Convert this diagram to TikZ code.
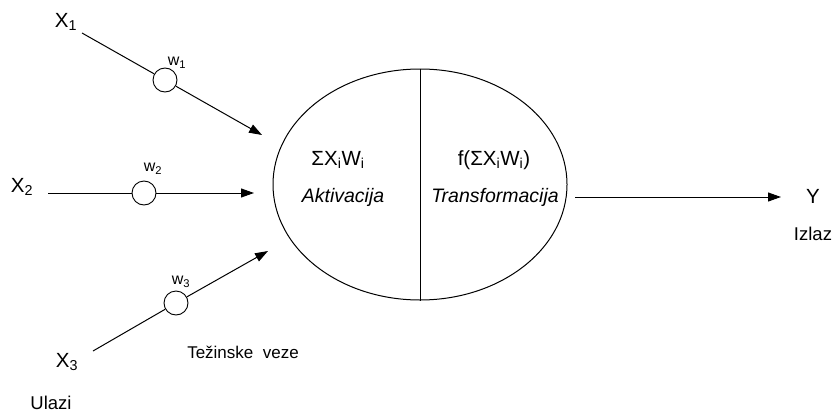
\documentclass[tikz,border=0pt]{standalone}
\usepackage{fontspec}
\setmainfont{Liberation Sans}
\usetikzlibrary{positioning, arrows.meta, shapes.geometric}
\tikzset{
	>={Triangle[length=13pt,width=9pt]},
	every node/.style={font=\fontsize{20.5}{24}\selectfont, inner sep=0pt},
	weight/.style={draw, circle, minimum size=24pt, line width=0.9pt},
	wlabel/.style={font=\fontsize{16}{18}\selectfont},
	note/.style={font=\fontsize{17}{20}\selectfont},
	caption/.style={font=\fontsize{18.5}{21}\selectfont},
	stage/.style={font=\fontsize{19.5}{22}\selectfont\itshape},
	link/.style={line width=1pt}
}

\begin{document}
\begin{tikzpicture}[x=1pt, y=-1pt]
	\useasboundingbox (0,0) rectangle (834,412);
	% neuron
	\node[draw, ellipse, line width=1pt, minimum width=294pt, minimum height=231pt] (neuron) at (420,184.5) {};
	\draw[link] (neuron.north) -- (neuron.south);
	\node (sum) at (338,160) {ΣX\textsubscript{i}W\textsubscript{i}};
	\node[stage] (akt) at (343,197) {Aktivacija};
	\node (fsum) at (494,160) {f(ΣX\textsubscript{i}W\textsubscript{i})};
	\node[stage] (trans) at (495,197) {Transformacija};

	% inputs
	\node (x1) at (66,22) {X\textsubscript{1}};
	\node (x2) at (22,187) {X\textsubscript{2}};
	\node (x3) at (67,362) {X\textsubscript{3}};
	\node[caption] (ulazi) at (51,403) {Ulazi};

	% weights
	\node[weight] (w1) at (165,80) {};
	\node[weight] (w2) at (144,193) {};
	\node[weight] (w3) at (176,303) {};
	\node[wlabel] (lw1) at (177,63) {w\textsubscript{1}};
	\node[wlabel] (lw2) at (153,169) {w\textsubscript{2}};
	\node[wlabel] (lw3) at (181,282) {w\textsubscript{3}};
	\node[note] (veze) at (243,352) {Težinske\ \ veze};

	\coordinate (s1) at (82,33);
	\coordinate (s2) at (48,193);
	\coordinate (s3) at (93,351);
	\coordinate (a1) at (262,135);
	\coordinate (a2) at (254,193);
	\coordinate (a3) at (268,251);

	\draw[link] (s1) -- (w1);
	\draw[link,->] (w1) -- (a1);
	\draw[link] (s2) -- (w2);
	\draw[link,->] (w2) -- (a2);
	\draw[link] (s3) -- (w3);
	\draw[link,->] (w3) -- (a3);

	% output
	\coordinate (o1) at (575,197);
	\coordinate (o2) at (781,197);
	\node (y) at (813,196) {Y};
	\node[caption, below=24pt of y] (izlaz) {Izlaz};
	\draw[link,->] (o1) -- (o2);
\end{tikzpicture}
\end{document}
